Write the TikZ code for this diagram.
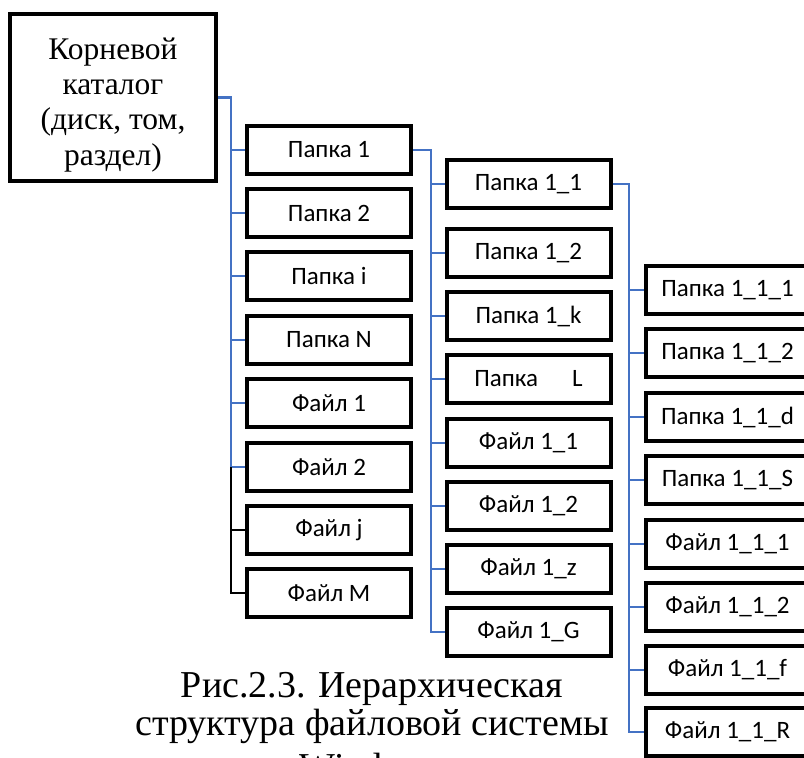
\documentclass[tikz,border=0pt]{standalone}
\usepackage{fontspec}
\setmainfont{Liberation Serif}
\newfontfamily\boxfont{Carlito}
\definecolor{linkblue}{RGB}{68,114,196}
\begin{document}
\begin{tikzpicture}[x=1pt,y=-1pt,
  rootbox/.style={draw, line width=4pt, minimum width=206pt, minimum height=167pt, align=center, inner sep=0pt, font=\fontsize{31.5}{35.3}\selectfont},
  itembox/.style={draw, line width=4pt, minimum width=164pt, minimum height=48pt, inner sep=0pt, font=\boxfont\fontsize{25}{30}\selectfont},
  bluelink/.style={draw=linkblue, line width=2.6pt},
  blacklink/.style={draw=black, line width=2.6pt},
  captext/.style={align=center, font=\fontsize{38}{38}\selectfont, inner sep=0pt}
]
\useasboundingbox (0,0) rectangle (804,758);
\clip (0,0) rectangle (804,758);
\fill[white] (0,0) rectangle (804,758);

\node[rootbox] (root) at (113,97.5) {\rule{0pt}{36pt}Корневой\\каталог\\(диск, том,\\раздел)};

% column 1
\foreach \n/\y/\t in {a1/150/Папка 1, a2/213/Папка 2, a3/276/Папка i, a4/340/Папка N,
  a5/403/Файл 1, a6/467/Файл 2, a7/530/Файл j, a8/593/Файл M}
  \node[itembox] (\n) at (329,\y) {\t};

% column 2
\foreach \n/\y/\t in {b1/184/Папка 1\_1, b2/253/Папка 1\_2, b3/316/Папка 1\_k, b4/379/Папка\hspace{34pt}L,
  b5/443/Файл 1\_1, b6/506/Файл 1\_2, b7/569/Файл 1\_z, b8/632/Файл 1\_G}
  \node[itembox] (\n) at (528.5,\y) {\t};

% column 3
\foreach \n/\y/\t in {c1/290/Папка 1\_1\_1, c2/353/Папка 1\_1\_2, c3/417/Папка 1\_1\_d, c4/480/Папка 1\_1\_S,
  c5/544/Файл 1\_1\_1, c6/607/Файл 1\_1\_2, c7/670/Файл 1\_1\_f, c8/732/Файл 1\_1\_R}
  \node[itembox] (\n) at (727.5,\y) {\t};

\coordinate (t1) at (231,0);
\coordinate (t2) at (431,0);
\coordinate (t3) at (629,0);

% connectors level 1
\draw[bluelink] (root.east) -- (t1 |- root.east) -- (t1 |- a6.west) -- (a6.west);
\foreach \n in {a1,a2,a3,a4,a5}
  \draw[bluelink] (t1 |- \n.west) -- (\n.west);
\draw[blacklink] (t1 |- a6.west) -- (t1 |- a8.west) -- (a8.west);
\draw[blacklink] (t1 |- a7.west) -- (a7.west);

% connectors level 2
\draw[bluelink] (a1.east) -- (t2 |- a1.east) -- (t2 |- b8.west) -- (b8.west);
\foreach \n in {b1,b2,b3,b4,b5,b6,b7}
  \draw[bluelink] (t2 |- \n.west) -- (\n.west);

% connectors level 3
\draw[bluelink] (b1.east) -- (t3 |- b1.east) -- (t3 |- c8.west) -- (c8.west);
\foreach \n in {c1,c2,c3,c4,c5,c6,c7}
  \draw[bluelink] (t3 |- \n.west) -- (\n.west);

% caption
\node[captext, anchor=base] (cap1) at (372,697) {Рис.2.3. Иерархическая};
\node[captext, anchor=base] (cap2) at (372,735) {структура файловой системы};
\node[captext, anchor=base] (cap3) at (372,779) {Windows};
\end{tikzpicture}
\end{document}
